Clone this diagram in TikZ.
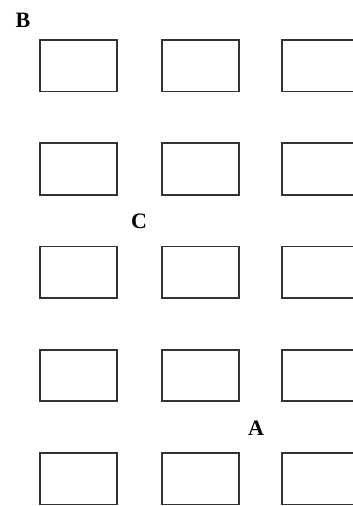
\documentclass[tikz,border=0pt]{standalone}
\usepackage{fontspec}
\setmainfont{Liberation Serif}
\begin{document}
\begin{tikzpicture}[x=1pt,y=-1pt,
  box/.style={draw=black!80,line width=1.8pt,rectangle,minimum width=77pt,minimum height=51.5pt,inner sep=0pt,anchor=north west},
  lbl/.style={font=\fontsize{22}{22}\selectfont\bfseries,inner sep=0pt}]
\useasboundingbox (0,0) rectangle (353,506);
\clip (0,0) rectangle (353,506);
\foreach \r/\y in {1/39,2/142.2,3/245.5,4/348.7,5/452}{
  \node[box] (b\r a) at (38.7,\y) {};
  \node[box] (b\r b) at (161,\y) {};
  \node[box] (b\r c) at (281,\y) {};
}
\node[lbl] (B) at (23,20) {B};
\node[lbl] (C) at (139,221) {C};
\node[lbl] (A) at (256,428) {A};
\end{tikzpicture}
\end{document}
